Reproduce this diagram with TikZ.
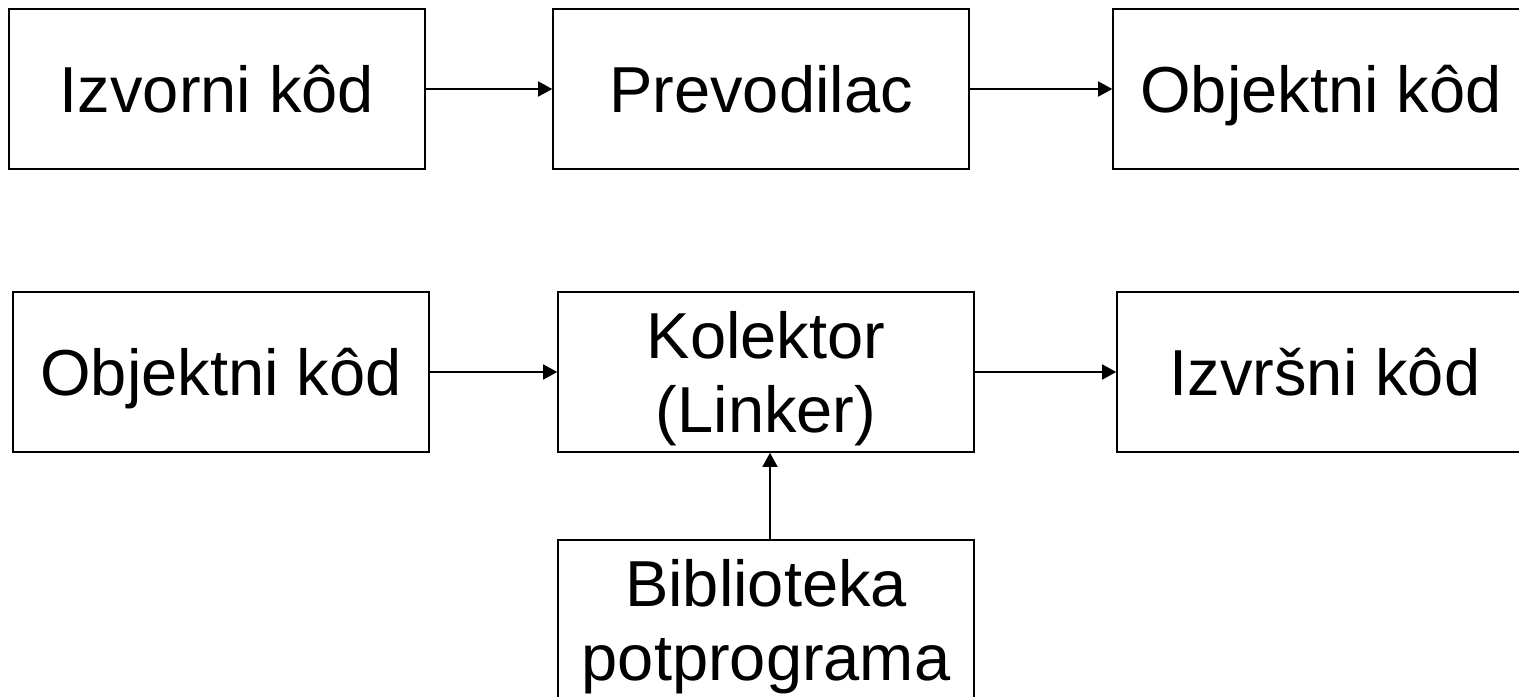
\documentclass[tikz,border=0pt]{standalone}
\usepackage{fontspec}
\setmainfont{Liberation Sans}
\usetikzlibrary{arrows.meta}

\begin{document}
\begin{tikzpicture}[x=.5pt,y=-.5pt,
  box/.style={draw,line width=.8pt,minimum width=208pt,minimum height=80pt,
    inner sep=0pt,align=center,text depth=0pt,
    font=\fontsize{32.5}{37.4}\selectfont},
  arr/.style={line width=.75pt,-{Triangle[length=7pt,width=7.5pt]}}]
\useasboundingbox (0,0) rectangle (1519,696);
% prevodjenje
\node[box] (izv) at (217,89) {Izvorni kôd};
\node[box] (prev) at (761,89) {Prevodilac};
\node[box] (obj) at (1321,89) {Objektni kôd};
\draw[arr] (izv) -- (prev);
\draw[arr] (prev) -- (obj);
% povezivanje
\node[box] (objk) at (221,372) {Objektni kôd};
\node[box] (kol) at (766,372) {Kolektor\\(Linker)};
\node[box] (izvr) at (1325,372) {Izvršni kôd};
\node[box] (bib) at (766,620) {Biblioteka\\potprograma};
\draw[arr] (objk) -- (kol);
\draw[arr] (kol) -- (izvr);
\draw[arr] ([xshift=2pt]bib.north) -- ([xshift=2pt]kol.south);
\end{tikzpicture}
\end{document}
